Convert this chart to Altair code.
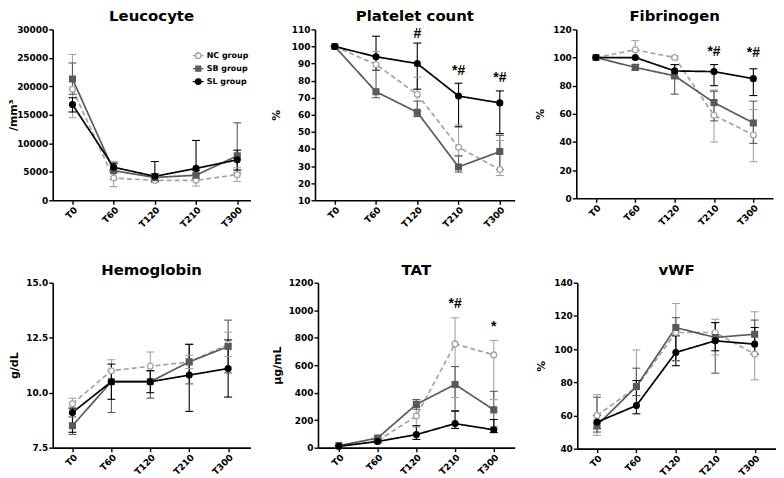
import altair as alt
import pandas as pd

times = ["T0", "T60", "T120", "T210", "T300"]
groups = ["NC group", "SB group", "SL group"]

# ---- Leucocyte (/mm3)
leu_mean = [[19500, 3900, 3500, 3500, 4500],
            [21300, 5200, 4000, 4400, 7800],
            [16800, 5800, 4200, 5600, 7100]]
leu_lo = [[14500, 2400, 3100, 2500, 3300],
          [18600, 3700, 3400, 3800, 4800],
          [15500, 5000, 3300, 4600, 5300]]
leu_hi = [[25600, 5500, 3900, 4500, 5700],
          [24100, 6700, 4700, 5200, 13600],
          [18000, 6400, 6800, 10500, 8800]]

# ---- Platelet count (%)
plt_mean = [[100, 89.5, 72, 41, 28],
            [100, 73.5, 61.5, 29.5, 38.5],
            [100, 94, 90, 71, 67]]
plt_lo = [[100, 86, 62, 36, 24.5],
          [100, 70, 59, 26.5, 28],
          [100, 86, 75, 53, 49]]
plt_hi = [[100, 97, 82, 54, 45],
          [100, 86, 68, 36, 48],
          [100, 106, 102, 78.5, 74]]
plt_ann_t = ["T120", "T210", "T300"]
plt_ann_y = [107.5, 85.5, 81.5]
plt_ann_s = ["#", "*#", "*#"]

# ---- Fibrinogen (%)
fib_mean = [[100, 105.5, 100, 59, 45],
            [100, 93, 87, 68, 53.5],
            [100, 100, 90.5, 90, 85]]
fib_lo = [[100, 99, 99, 40, 26],
          [100, 91, 74, 55, 39],
          [100, 100, 86, 80, 73]]
fib_hi = [[100, 112, 101, 77, 63],
          [100, 95, 95, 76, 69],
          [100, 100, 95, 95, 92]]
fib_ann_t = ["T210", "T300"]
fib_ann_y = [104, 103]
fib_ann_s = ["*#", "*#"]

# ---- Hemoglobin (g/dL)
hb_mean = [[9.5, 11.0, 11.2, 11.4, 12.2],
           [8.5, 10.5, 10.5, 11.4, 12.1],
           [9.1, 10.5, 10.5, 10.8, 11.1]]
hb_lo = [[9.25, 10.5, 10.55, 11.1, 11.65],
         [8.1, 9.1, 9.75, 10.4, 10.9],
         [8.2, 9.7, 10.0, 9.15, 9.8]]
hb_hi = [[9.75, 11.5, 11.85, 11.7, 12.75],
         [8.9, 11.0, 11.0, 12.2, 13.3],
         [9.3, 11.3, 11.0, 12.2, 12.4]]

# ---- TAT (ug/mL)
tat_mean = [[10, 50, 230, 755, 675],
            [15, 70, 315, 460, 275],
            [10, 45, 95, 175, 130]]
tat_lo = [[5, 40, 150, 365, 350],
          [10, 60, 280, 270, 150],
          [5, 35, 60, 140, 110]]
tat_hi = [[15, 60, 300, 945, 780],
          [20, 80, 350, 590, 410],
          [15, 55, 160, 265, 205]]
tat_ann_t = ["T210", "T300"]
tat_ann_y = [1045, 880]
tat_ann_s = ["*#", "*"]

# ---- vWF (%)
vwf_mean = [[60, 77, 110, 110, 97],
            [54, 77.5, 113, 107, 109],
            [56, 66, 98, 105, 103]]
vwf_lo = [[48, 72, 93, 96.5, 81.5],
          [50, 72, 93, 85.5, 97],
          [52, 61, 90, 99, 97]]
vwf_hi = [[72.5, 99.5, 127.5, 118, 122.5],
          [71, 88.5, 119, 116, 117.5],
          [60, 81, 108, 116, 113]]

FONT = "DejaVu Sans"
ANN_FONT = "Liberation Sans"
line_colors = ["#a3a3a3", "#5a5a5a", "#000000"]
fill_colors = ["#ffffff", "#5a5a5a", "#000000"]
shapes = ["circle", "square", "circle"]
# legend symbols: marker with a short line through it
legend_shapes = [
    "M-1,0L-0.5,0M0.5,0L1,0M-0.5,0A0.5,0.5,0,1,1,0.5,0A0.5,0.5,0,1,1,-0.5,0Z",
    "M-1,0L-0.45,0M0.45,0L1,0M-0.45,-0.45L0.45,-0.45L0.45,0.45L-0.45,0.45Z",
    "M-1,0L-0.5,0M0.5,0L1,0M-0.5,0A0.5,0.5,0,1,1,0.5,0A0.5,0.5,0,1,1,-0.5,0Z",
]


def make_df(means, los, his):
    rows = []
    for g, m, l, h in zip(groups, means, los, his):
        for t, mv, lv, hv in zip(times, m, l, h):
            rows.append(dict(time=t, group=g, mean=mv, lo=lv, hi=hv))
    return pd.DataFrame(rows)


def panel(title, ytitle, domain, ticks, fmt, means, los, his, width, height,
          pad, align, tx, ann=None, legend=False):
    df = make_df(means, los, his)
    base = alt.Chart(df)
    x = alt.X("time:N", sort=times,
              scale=alt.Scale(type="point", padding=pad, align=align),
              axis=alt.Axis(title=None, labelAngle=315, labelPadding=1))
    yax = alt.Axis(title=ytitle, values=ticks, format=fmt, titleX=tx,
                   titleBaseline="middle", labelPadding=1)
    ysc = alt.Scale(domain=domain, nice=False, zero=False)

    def Y(f):
        return alt.Y(f, scale=ysc, axis=yax)

    col = alt.Color("group:N", scale=alt.Scale(range=line_colors), legend=None)
    dash = alt.condition("datum.group == 'NC group'", alt.value([5, 3]), alt.value([1, 0]))
    lines = base.mark_line(strokeWidth=1.7).encode(x=x, y=Y("mean:Q"), color=col,
                                                   strokeDash=dash)
    rules = base.mark_rule(strokeWidth=1.1).encode(x=x, y=Y("lo:Q"), y2="hi:Q", color=col)
    cap_lo = base.mark_tick(orient="horizontal", size=8, thickness=1.1, opacity=1).encode(
        x=x, y=Y("lo:Q"), color=col)
    cap_hi = base.mark_tick(orient="horizontal", size=8, thickness=1.1, opacity=1).encode(
        x=x, y=Y("hi:Q"), color=col)
    pts = base.mark_point(size=34, strokeWidth=1.3, opacity=1).encode(
        x=x, y=Y("mean:Q"),
        stroke=alt.Stroke("group:N", scale=alt.Scale(range=line_colors), legend=None),
        fill=alt.Fill("group:N", scale=alt.Scale(range=fill_colors), legend=None),
        shape=alt.Shape("group:N", scale=alt.Scale(range=shapes), legend=None),
    )
    layers = [lines, rules, cap_lo, cap_hi, pts]
    if ann is not None:
        adf = pd.DataFrame({"time": ann[0], "y": ann[1], "s": ann[2]})
        txt = alt.Chart(adf).mark_text(font=ANN_FONT, fontWeight="bold", fontSize=14,
                                       color="black", baseline="middle").encode(
            x=x, y=Y("y:Q"), text="s:N")
        layers.append(txt)
    if legend:
        leg = alt.Legend(title=None, orient="none", legendX=140, legendY=20, padding=0,
                         labelFont=FONT, labelFontWeight="bold", labelFontSize=8,
                         labelColor="black", symbolSize=120, rowPadding=1,
                         labelOffset=2, symbolStrokeWidth=1.3, symbolOpacity=1)
        leg_layer = base.transform_filter("false").mark_point(opacity=1).encode(
            x=x, y=Y("mean:Q"),
            stroke=alt.Stroke("group:N", scale=alt.Scale(domain=groups, range=line_colors),
                              legend=leg),
            fill=alt.Fill("group:N", scale=alt.Scale(domain=groups, range=fill_colors),
                          legend=leg),
            shape=alt.Shape("group:N", scale=alt.Scale(domain=groups, range=legend_shapes),
                            legend=leg),
        )
        layers.append(leg_layer)
    lay = alt.layer(*layers)
    if legend:
        lay = lay.resolve_scale(stroke="independent", fill="independent",
                                shape="independent").resolve_legend(
            stroke="independent", fill="independent", shape="independent")
    return lay.properties(
        width=width, height=height,
        title=alt.TitleParams(title, font=FONT, fontSize=15, fontWeight="bold",
                              color="black", anchor="middle", frame="group",
                              offset=1))


p1 = panel("Leucocyte", "/mm³", [0, 30000], list(range(0, 30001, 5000)), "d",
           leu_mean, leu_lo, leu_hi, 199, 172, 0.4, 0.6, -39, legend=True)
p2 = panel("Platelet count", "%", [10, 110], list(range(10, 111, 10)), "d",
           plt_mean, plt_lo, plt_hi, 201, 172, 0.42, 0.57, -39,
           ann=(plt_ann_t, plt_ann_y, plt_ann_s))
p3 = panel("Fibrinogen", "%", [0, 120], list(range(0, 121, 20)), "d",
           fib_mean, fib_lo, fib_hi, 198, 170, 0.5, 0.5, -36,
           ann=(fib_ann_t, fib_ann_y, fib_ann_s))
p4 = panel("Hemoglobin", "g/dL", [7.5, 15], [7.5, 10, 12.5, 15], ".1f",
           hb_mean, hb_lo, hb_hi, 199, 166, 0.54, 0.47, -38)
p5 = panel("TAT", "μg/mL", [0, 1200], list(range(0, 1201, 200)), "d",
           tat_mean, tat_lo, tat_hi, 198, 166, 0.54, 0.5, -41,
           ann=(tat_ann_t, tat_ann_y, tat_ann_s))
p6 = panel("vWF", "%", [40, 140], list(range(40, 141, 20)), "d",
           vwf_mean, vwf_lo, vwf_hi, 200, 167, 0.52, 0.48, -36)

indep = dict(color="independent", stroke="independent", fill="independent",
             shape="independent")

row1 = alt.hconcat(p1, p2, p3, spacing=20).resolve_scale(**indep).resolve_legend(**indep)
row2 = alt.hconcat(p4, p5, p6, spacing=21).resolve_scale(**indep).resolve_legend(**indep)

chart = alt.vconcat(row1, row2, spacing=34).resolve_scale(**indep).resolve_legend(
    **indep).properties(padding=0).configure_view(stroke=None).configure_axis(
    grid=False, domainColor="black", domainWidth=1.6, tickColor="black", tickWidth=1.4,
    tickSize=4, labelFont=FONT, labelFontWeight="bold", labelFontSize=9,
    labelColor="black", titleFont=FONT, titleFontWeight="bold", titleFontSize=11,
    titleColor="black",
)

chart.save("out.html", embed_options={"renderer": "svg", "actions": False})
